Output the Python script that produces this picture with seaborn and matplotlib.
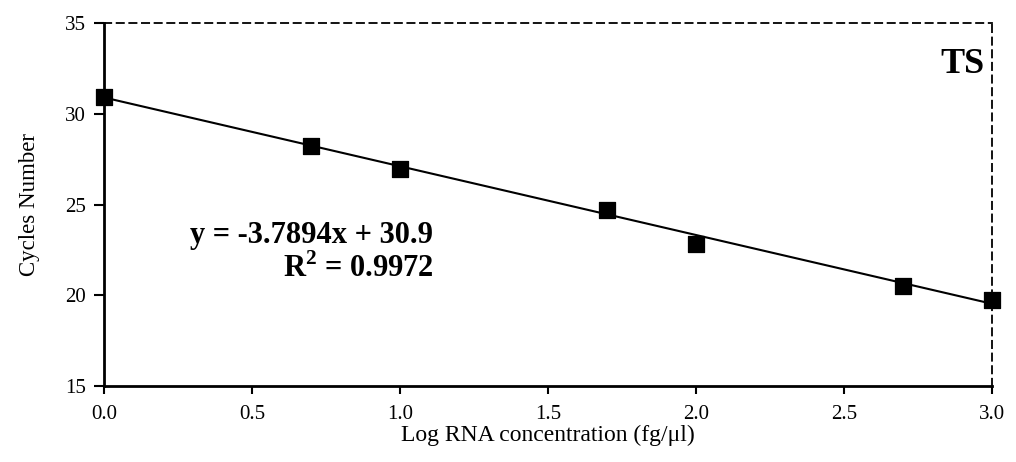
import seaborn as sns
import matplotlib.pyplot as plt
import pandas as pd
import numpy as np

# data
log_conc = [0.0, 0.7, 1.0, 1.7, 2.0, 2.7, 3.0]
cycles = [30.92, 28.22, 26.98, 24.72, 22.82, 20.52, 19.72]
slope = -3.7894
intercept = 30.9
r_squared = 0.9972
x_ticks = [0.0, 0.5, 1.0, 1.5, 2.0, 2.5, 3.0]
y_ticks = [15, 20, 25, 30, 35]

df = pd.DataFrame({"x": log_conc, "y": cycles})
fit_x = np.array([log_conc[0], log_conc[-1]])
fit_df = pd.DataFrame({"x": fit_x, "y": slope * fit_x + intercept})

sns.set_style("ticks")
plt.rcParams['font.family'] = ['Liberation Serif', 'DejaVu Serif']
plt.rcParams['mathtext.fontset'] = 'custom'
plt.rcParams['mathtext.rm'] = 'Liberation Serif'
plt.rcParams['mathtext.bf'] = 'Liberation Serif:bold'
plt.rcParams['text.color'] = 'black'
plt.rcParams['axes.labelcolor'] = 'black'
plt.rcParams['xtick.color'] = 'black'
plt.rcParams['ytick.color'] = 'black'

fig = plt.figure(figsize=(10.16, 4.62), dpi=100)
ax = fig.add_axes([0.1024, 0.1645, 0.8740, 0.7855])

#fitted line
sns.lineplot(data=fit_df, x="x", y="y", ax=ax, color="black", linewidth=1.5)

#points
sns.scatterplot(data=df, x="x", y="y", ax=ax, marker="s", s=130, color="black",
                edgecolor="black", zorder=5, clip_on=False)

ax.set_xlim(0, 3)
ax.set_ylim(15, 35)
ax.set_xticks(x_ticks)
ax.set_xticklabels([f"{t:.1f}" for t in x_ticks])
ax.set_yticks(y_ticks)
ax.tick_params(axis="both", direction="out", width=1.5, labelsize=15)
ax.tick_params(axis="x", length=6, pad=8)
ax.tick_params(axis="y", length=7, pad=6)

for side in ["left", "bottom"]:
    ax.spines[side].set_linewidth(2)
    ax.spines[side].set_color("black")
for side in ["top", "right"]:
    ax.spines[side].set_visible(True)
    ax.spines[side].set_linestyle((0, (4, 3)))
    ax.spines[side].set_linewidth(1.3)
    ax.spines[side].set_color("black")

ax.set_xlabel("Log RNA concentration (fg/\u03bcl)", fontsize=17, labelpad=0)
ax.set_ylabel("Cycles Number", fontsize=16.5, labelpad=18)

ax.text(0.3705, 0.394, f"y = {slope}x + {intercept}", transform=ax.transAxes,
        ha="right", va="baseline", fontsize=22, fontweight="bold")
ax.text(0.3705, 0.300, "R$^{\\mathbf{2}}$ = " + f"{r_squared}", transform=ax.transAxes,
        ha="right", va="baseline", fontsize=22, fontweight="bold")
ax.text(0.992, 0.862, "TS", transform=ax.transAxes, ha="right", va="baseline",
        fontsize=26, fontweight="bold")

fig.savefig("out.png", dpi=100)
